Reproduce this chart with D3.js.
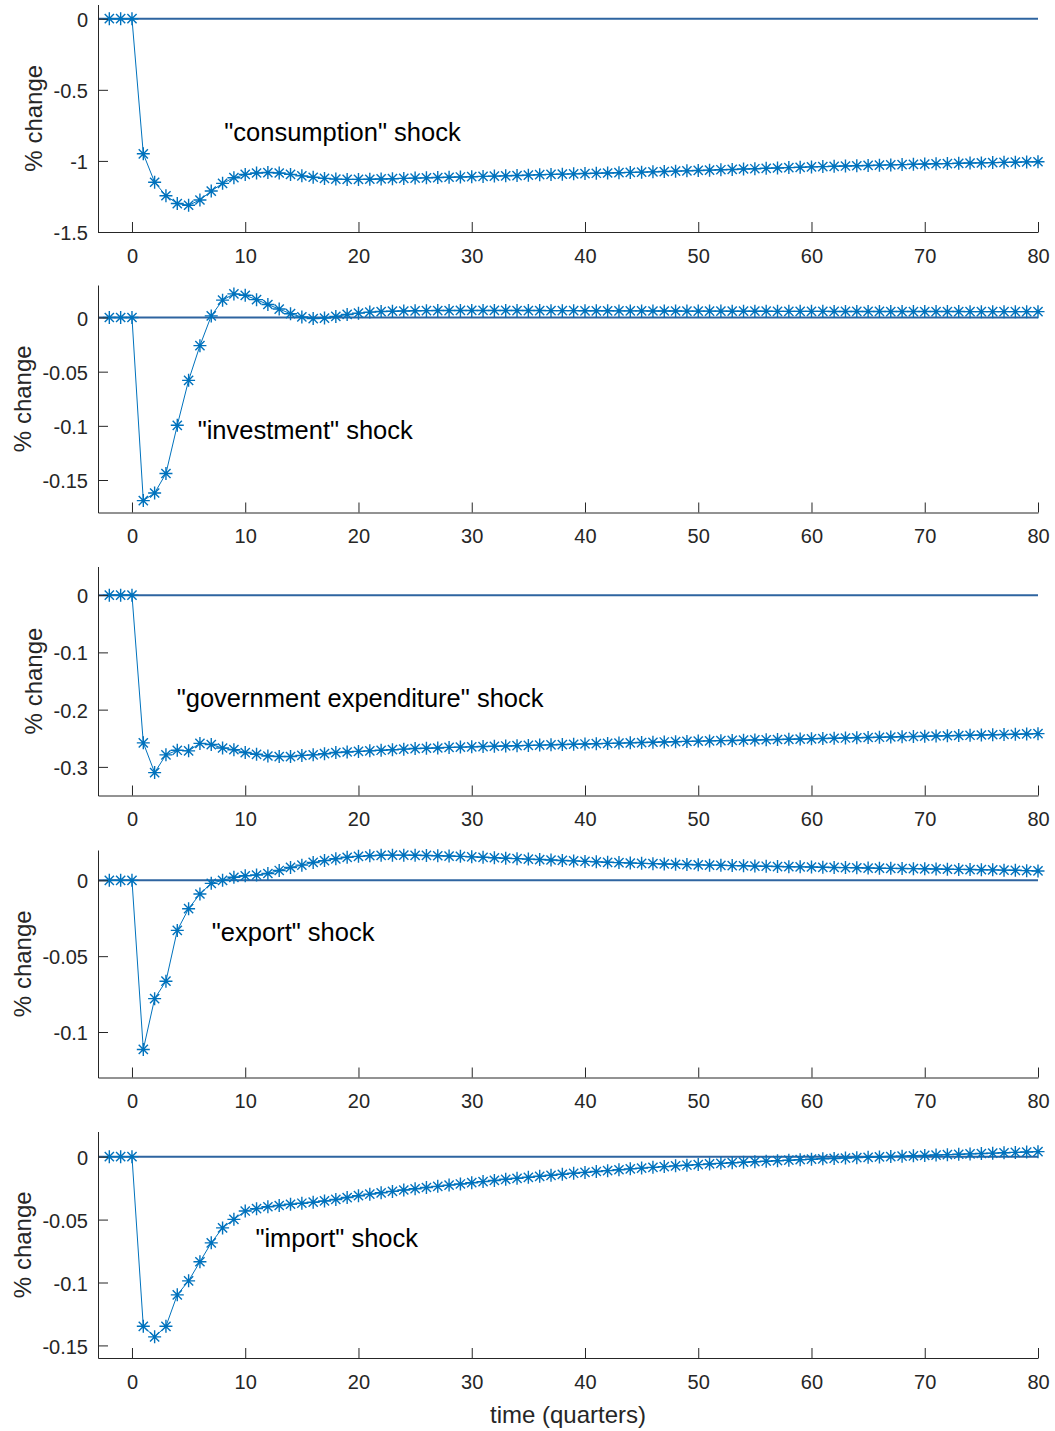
<!DOCTYPE html>
<html><head><meta charset="utf-8">
<script src="https://cdn.jsdelivr.net/npm/d3@7"></script>
<style>
body{margin:0;background:#fff}
svg{display:block}
text{font-family:"Liberation Sans",Arial,Helvetica,sans-serif}
</style>
</head><body>
<svg id="chart" width="1055" height="1431"></svg>
<script>
const quarters = [-2,-1,0,1,2,3,4,5,6,7,8,9,10,11,12,13,14,15,16,17,18,19,20,21,22,23,24,25,26,27,28,29,30,31,32,33,34,35,36,37,38,39,40,41,42,43,44,45,46,47,48,49,50,51,52,53,54,55,56,57,58,59,60,61,62,63,64,65,66,67,68,69,70,71,72,73,74,75,76,77,78,79,80];
const xTicks = [0,10,20,30,40,50,60,70,80];

const consumption = [0,0,0,
-0.950,-1.150,-1.245,-1.300,-1.312,-1.275,-1.212,-1.158,-1.118,-1.095,
-1.085,-1.082,-1.085,-1.095,-1.105,-1.115,-1.123,-1.128,-1.130,-1.130,
-1.129,-1.127,-1.125,-1.123,-1.121,-1.119,-1.117,-1.115,-1.113,-1.111,
-1.109,-1.107,-1.105,-1.103,-1.100,-1.097,-1.095,-1.093,-1.091,-1.089,
-1.087,-1.085,-1.083,-1.081,-1.079,-1.077,-1.075,-1.072,-1.070,-1.067,
-1.065,-1.062,-1.060,-1.057,-1.055,-1.052,-1.050,-1.047,-1.045,-1.042,
-1.040,-1.038,-1.036,-1.034,-1.032,-1.030,-1.028,-1.026,-1.024,-1.022,
-1.020,-1.019,-1.017,-1.015,-1.014,-1.012,-1.010,-1.009,-1.007,-1.006];

const investment = [0,0,0,
-0.169,-0.162,-0.144,-0.0995,-0.058,-0.026,0.0015,0.016,0.0218,0.0205,
0.0165,0.012,0.0078,0.0035,0.0005,-0.001,-0.0005,0.001,0.0028,0.004,
0.005,0.0055,0.0058,0.006,0.0062,0.0063,0.0064,0.0064,0.0065,0.0065,
0.0065,0.0065,0.0065,0.0064,0.0064,0.0064,0.0063,0.0063,0.0063,0.0062,
0.0062,0.0062,0.0061,0.0061,0.0061,0.0060,0.0060,0.0060,0.0059,0.0059,
0.0059,0.0059,0.0058,0.0058,0.0058,0.0058,0.0057,0.0057,0.0057,0.0057,
0.0057,0.0056,0.0056,0.0056,0.0056,0.0056,0.0055,0.0055,0.0055,0.0055,
0.0055,0.0055,0.0055,0.0054,0.0054,0.0054,0.0054,0.0054,0.0054,0.0054];

const government = [0,0,0,
-0.258,-0.310,-0.279,-0.271,-0.272,-0.259,-0.261,-0.267,-0.270,-0.275,
-0.278,-0.281,-0.282,-0.282,-0.280,-0.279,-0.277,-0.275,-0.274,-0.273,
-0.272,-0.271,-0.270,-0.269,-0.268,-0.2675,-0.267,-0.266,-0.2655,-0.265,
-0.2645,-0.264,-0.2635,-0.263,-0.2625,-0.262,-0.2615,-0.261,-0.2605,-0.260,
-0.2595,-0.259,-0.2585,-0.258,-0.2575,-0.257,-0.2565,-0.256,-0.2555,-0.255,
-0.2546,-0.2542,-0.2538,-0.2534,-0.253,-0.2526,-0.2522,-0.2518,-0.2514,-0.251,
-0.2505,-0.250,-0.2496,-0.2491,-0.2487,-0.2483,-0.2478,-0.2474,-0.2469,-0.2465,
-0.2461,-0.2456,-0.2452,-0.2448,-0.2443,-0.2439,-0.2434,-0.243,-0.2425,-0.242];

const exportShock = [0,0,0,
-0.1115,-0.078,-0.0665,-0.033,-0.0187,-0.009,-0.002,0.0,0.002,0.003,
0.0035,0.0045,0.0065,0.0085,0.010,0.0118,0.013,0.0142,0.0152,0.0158,
0.0162,0.0165,0.0166,0.0166,0.0165,0.0164,0.0162,0.016,0.0158,0.0155,
0.0152,0.0149,0.0146,0.0143,0.014,0.0137,0.0134,0.0131,0.0128,0.0125,
0.0122,0.0119,0.0117,0.0114,0.0112,0.011,0.0108,0.0106,0.0104,0.0102,
0.01,0.0099,0.0097,0.0096,0.0094,0.0093,0.0091,0.009,0.0089,0.0088,
0.0086,0.0085,0.0084,0.0083,0.0081,0.008,0.0079,0.0078,0.0077,0.0076,
0.0075,0.0073,0.0072,0.0071,0.007,0.0069,0.0067,0.0066,0.0064,0.0062];

const importShock = [0,0,0,
-0.1348,-0.1432,-0.1348,-0.1098,-0.0987,-0.0835,-0.0685,-0.0566,-0.0498,-0.0432,
-0.0413,-0.0398,-0.0388,-0.0378,-0.037,-0.0362,-0.0352,-0.034,-0.0325,-0.031,
-0.0298,-0.0287,-0.0276,-0.0265,-0.0255,-0.0245,-0.0236,-0.0226,-0.0217,-0.0207,
-0.0198,-0.0189,-0.018,-0.0172,-0.0164,-0.0156,-0.0148,-0.014,-0.0132,-0.0125,
-0.0118,-0.0111,-0.0104,-0.0097,-0.0091,-0.0085,-0.0079,-0.0073,-0.0068,-0.0063,
-0.0058,-0.0053,-0.0048,-0.0044,-0.004,-0.0036,-0.0032,-0.0028,-0.0024,-0.002,
-0.0017,-0.0014,-0.0011,-0.0008,-0.0005,-0.0002,0.0001,0.0004,0.0007,0.001,
0.0013,0.0016,0.0019,0.0022,0.0025,0.0028,0.0031,0.0034,0.0037,0.004];

const yTicks1 = [-1.5,-1,-0.5,0];
const yTicks2 = [-0.15,-0.1,-0.05,0];
const yTicks3 = [-0.3,-0.2,-0.1,0];
const yTicks4 = [-0.1,-0.05,0];
const yTicks5 = [-0.15,-0.1,-0.05,0];

const shockLabels = ['"consumption" shock','"investment" shock','"government expenditure" shock','"export" shock','"import" shock'];
const yLabel = '% change';
const xLabel = 'time (quarters)';

const panels = [
  {values: consumption, domain:[-1.5,0.1], ticks:yTicks1, top:4.5, bottom:232, ann:[8.15,-0.8]},
  {values: investment, domain:[-0.18,0.03], ticks:yTicks2, top:285, bottom:512.5, ann:[5.8,-0.104]},
  {values: government, domain:[-0.35,0.05], ticks:yTicks3, top:566.5, bottom:795.5, ann:[3.95,-0.18]},
  {values: exportShock, domain:[-0.13,0.02], ticks:yTicks4, top:850, bottom:1077.5, ann:[7.05,-0.034]},
  {values: importShock, domain:[-0.16,0.02], ticks:yTicks5, top:1131.5, bottom:1358, ann:[10.9,-0.0645]}
];

const svg = d3.select('#chart');
const lineColor = '#0072BD';
const zeroColor = '#2e64a0';
const axisColor = '#262626';
const x = d3.scaleLinear().domain([-3,80]).range([98,1038]);
const star = 'M-6.5,0H6.5M0,-6.5V6.5M-4.6,-4.6L4.6,4.6M-4.6,4.6L4.6,-4.6';

panels.forEach((p,i)=>{
  const y = d3.scaleLinear().domain(p.domain).range([p.bottom,p.top]);
  const g = svg.append('g');
  g.append('line')
    .attr('x1',x(-3)).attr('x2',x(80))
    .attr('y1',y(0)).attr('y2',y(0))
    .attr('stroke',zeroColor).attr('stroke-width',2);
  const pts = quarters.map((q,k)=>[q,p.values[k]]);
  g.append('path').datum(pts)
    .attr('d',d3.line().x(d=>x(d[0])).y(d=>y(d[1])))
    .attr('fill','none').attr('stroke',lineColor).attr('stroke-width',1);
  g.selectAll('path.m').data(pts).join('path').attr('class','m')
    .attr('d',star)
    .attr('transform',d=>`translate(${x(d[0])},${y(d[1])})`)
    .attr('fill','none').attr('stroke',lineColor).attr('stroke-width',1.4);

  const xa = g.append('g').attr('transform',`translate(0,${p.bottom})`)
    .call(d3.axisBottom(x).tickValues(xTicks).tickSizeInner(-10).tickSizeOuter(0).tickPadding(16.5).tickFormat(d=>String(d)));
  const ya = g.append('g').attr('transform',`translate(98,0)`)
    .call(d3.axisLeft(y).tickValues(p.ticks).tickSizeInner(-10).tickSizeOuter(0).tickPadding(10).tickFormat(d=>String(d)));
  [xa,ya].forEach(a=>{
    a.select('.domain').attr('stroke',axisColor).attr('stroke-width',1);
    a.selectAll('.tick line').attr('stroke',axisColor).attr('stroke-width',1);
    a.selectAll('.tick text').attr('fill',axisColor).style('font-size','20px').style('font-family','"Liberation Sans",Arial,sans-serif');
  });
  ya.selectAll('.tick text').attr('dy','0.38em');
  const bb = ya.node().getBBox();
  const cx = 98 + bb.x - 20;
  g.append('text')
    .attr('transform',`translate(${cx},${(p.top+p.bottom)/2}) rotate(-90)`)
    .attr('text-anchor','middle').attr('dominant-baseline','central')
    .attr('fill',axisColor).style('font-size','24px')
    .text(yLabel);
  g.append('text')
    .attr('x',x(p.ann[0])).attr('y',y(p.ann[1]))
    .attr('dominant-baseline','central')
    .attr('fill','#000').style('font-size','25.5px')
    .text(shockLabels[i]);
});

svg.append('text')
  .attr('x',568).attr('y',1414)
  .attr('text-anchor','middle').attr('dominant-baseline','central')
  .attr('fill',axisColor).style('font-size','24px')
  .text(xLabel);
</script>
</body></html>
